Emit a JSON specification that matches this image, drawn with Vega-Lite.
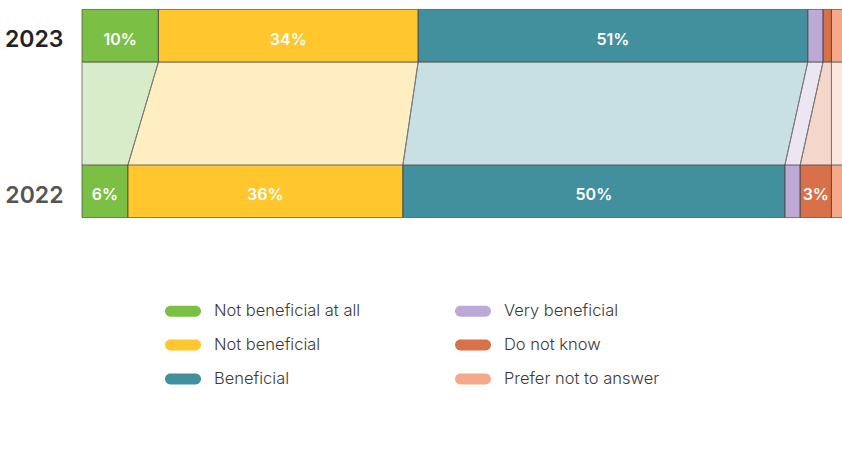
{
  "$schema": "https://vega.github.io/schema/vega-lite/v6.json",
  "width": 760,
  "height": 240,
  "autosize": {"type": "none"},
  "padding": {"left": 82, "top": 0, "right": 0, "bottom": 221},
  "background": "white",
  "config": {"view": {"stroke": null}},
  "data": {"values": [
    {"year": 2023, "category": "Not beneficial at all", "rank": 1, "value": 10, "label": "10%"},
    {"year": 2023, "category": "Not beneficial", "rank": 2, "value": 34, "label": "34%"},
    {"year": 2023, "category": "Beneficial", "rank": 3, "value": 51, "label": "51%"},
    {"year": 2023, "category": "Very beneficial", "rank": 4, "value": 2, "label": ""},
    {"year": 2023, "category": "Do not know", "rank": 5, "value": 1.1, "label": ""},
    {"year": 2023, "category": "Prefer not to answer", "rank": 6, "value": 1.9, "label": ""},
    {"year": 2022, "category": "Not beneficial at all", "rank": 1, "value": 6, "label": "6%"},
    {"year": 2022, "category": "Not beneficial", "rank": 2, "value": 36, "label": "36%"},
    {"year": 2022, "category": "Beneficial", "rank": 3, "value": 50, "label": "50%"},
    {"year": 2022, "category": "Very beneficial", "rank": 4, "value": 2, "label": ""},
    {"year": 2022, "category": "Do not know", "rank": 5, "value": 4.1, "label": "3%"},
    {"year": 2022, "category": "Prefer not to answer", "rank": 6, "value": 1.9, "label": ""}
  ]},
  "transform": [
    {"stack": "value", "groupby": ["year"], "sort": [{"field": "rank", "order": "ascending"}], "as": ["x0", "x1"]}
  ],
  "resolve": {"scale": {"y": "independent"}},
  "layer": [
    {
      "mark": {"type": "area", "orient": "horizontal", "fillOpacity": 0.29, "stroke": "#7a7a7a", "strokeWidth": 1},
      "encoding": {
        "y": {"field": "year", "type": "quantitative", "scale": {"domain": [2021.2769, 2023.6002], "nice": false, "zero": false, "padding": 0}, "axis": null},
        "x": {"field": "x0", "type": "quantitative", "scale": {"domain": [0, 99.48], "nice": false}, "axis": null},
        "x2": {"field": "x1"},
        "fill": {
          "field": "category", "type": "nominal", "legend": null,
          "scale": {
            "domain": ["Prefer not to answer", "Do not know", "Very beneficial", "Beneficial", "Not beneficial", "Not beneficial at all"],
            "range": ["#f6a98a", "#d8714a", "#bca9d5", "#42909e", "#ffc62e", "#7cbf45"]
          }
        }
      }
    },
    {
      "mark": {"type": "bar", "orient": "horizontal", "size": 52.5},
      "encoding": {
        "y": {
          "field": "year", "type": "quantitative",
          "scale": {"domain": [2021.687, 2023.2294], "nice": false, "zero": false, "padding": 0},
          "axis": {
            "values": [2022, 2023], "format": "d", "domain": false, "ticks": false, "grid": false, "title": null,
            "labelPadding": 19, "labelFontSize": 23, "labelFont": "Inter", "labelFontWeight": 600, "labelOffset": 4,
            "labelColor": {"condition": {"test": "datum.value == 2023", "value": "#222222"}, "value": "#555555"}
          }
        },
        "x": {"field": "x0", "type": "quantitative"},
        "x2": {"field": "x1"},
        "color": {
          "field": "category", "type": "nominal",
          "scale": {
            "domain": ["Not beneficial at all", "Not beneficial", "Beneficial", "Very beneficial", "Do not know", "Prefer not to answer"],
            "range": ["#7cbf45", "#ffc62e", "#42909e", "#bca9d5", "#d8714a", "#f6a98a"]
          },
          "legend": {
            "orient": "none", "legendX": 89, "legendY": 299, "columns": 2, "title": null, "padding": 0,
            "symbolType": "M-1.05,-0.45 L1.05,-0.45 A0.45,0.45 0 0 1 1.05,0.45 L-1.05,0.45 A0.45,0.45 0 0 1 -1.05,-0.45 Z",
            "symbolSize": 576, "symbolStrokeWidth": 0, "symbolOpacity": 1,
            "labelFont": "Inter", "labelFontSize": 16.5, "labelColor": "#3a3a3a", "labelFontWeight": 300,
            "labelOffset": 19, "rowPadding": 13, "columnPadding": 93, "labelLimit": 400
          }
        }
      }
    },
    {
      "mark": {"type": "bar", "orient": "horizontal", "size": 52.5, "fillOpacity": 0, "stroke": "#3d3d3d", "strokeWidth": 0.8, "strokeOpacity": 0.8},
      "encoding": {
        "y": {"field": "year", "type": "quantitative", "scale": {"domain": [2021.687, 2023.2294], "nice": false, "zero": false, "padding": 0}, "axis": null},
        "x": {"field": "x0", "type": "quantitative"},
        "x2": {"field": "x1"}
      }
    },
    {
      "transform": [
        {"fold": ["x0", "x1"], "as": ["edge", "pos"]},
        {"aggregate": [{"op": "mean", "field": "pos", "as": "mid"}], "groupby": ["year", "category", "label"]}
      ],
      "mark": {"type": "text", "color": "white", "font": "Inter", "fontSize": 16, "fontWeight": 600, "dy": 4},
      "encoding": {
        "y": {"field": "year", "type": "quantitative", "scale": {"domain": [2021.687, 2023.2294], "nice": false, "zero": false, "padding": 0}, "axis": null},
        "x": {"field": "mid", "type": "quantitative"},
        "text": {"field": "label"}
      }
    }
  ]
}
